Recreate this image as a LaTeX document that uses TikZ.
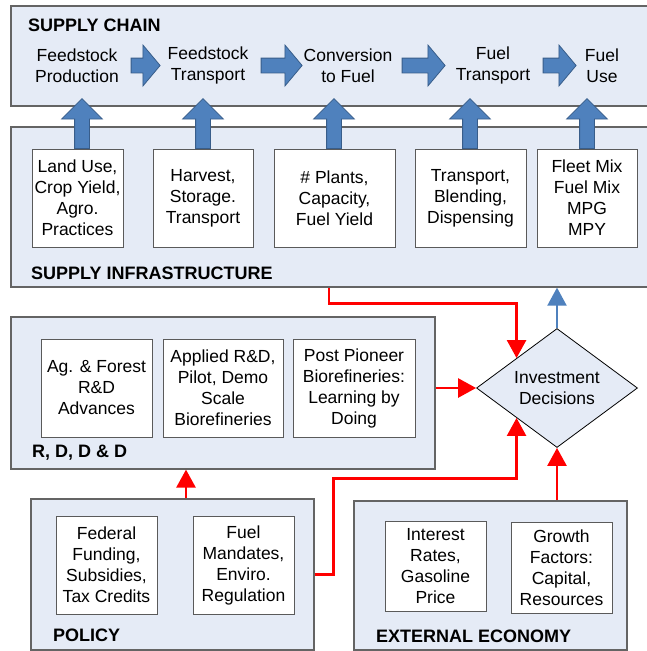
\documentclass[tikz,border=0pt]{standalone}
\usepackage{fontspec}
\setmainfont{Liberation Sans}
\usetikzlibrary{positioning,shapes.geometric,shapes.arrows,arrows.meta}
\definecolor{panelfill}{RGB}{229,235,246}
\definecolor{paneledge}{RGB}{100,100,100}
\definecolor{boxedge}{RGB}{90,90,90}
\definecolor{blockblue}{RGB}{79,129,189}
\definecolor{blockedge}{RGB}{56,93,138}
\definecolor{linkred}{RGB}{255,0,0}

\begin{document}
\begin{tikzpicture}[x=1pt, y=-1pt,
        every node/.style={font=\fontsize{17.5}{21}\selectfont},
        panel/.style={rectangle, draw=paneledge, fill=panelfill, line width=1.2pt, inner sep=0pt},
        itembox/.style={rectangle, draw=boxedge, fill=white, line width=1pt, align=center, inner sep=0pt, minimum height=98pt},
        paneltitle/.style={anchor=west, inner sep=0pt, font=\fontsize{18}{21}\selectfont\bfseries},
        flowtext/.style={align=center, inner sep=0pt},
        chevron/.style={single arrow, draw=blockedge, fill=blockblue, line width=0.8pt, inner sep=7pt, single arrow head extend=13pt, single arrow tip angle=100},
        uparrow/.style={single arrow, draw=blockedge, fill=blockblue, line width=0.8pt, inner sep=7pt, single arrow head extend=13pt, single arrow tip angle=90, minimum height=50pt, rotate=90, anchor=tail},
        decision/.style={diamond, draw=black, fill=panelfill, line width=0.8pt, aspect=1.35, minimum width=161pt, minimum height=119pt, inner sep=2pt, align=center},
        redlink/.style={draw=linkred, line width=2.6pt, -{Triangle[width=19pt,length=18pt]}},
        bluelink/.style={draw=blockblue, line width=2pt, -{Triangle[width=19pt,length=18pt]}},
]
        \useasboundingbox (0,0) rectangle (647,651);

        % panels
        \node[panel, minimum width=649pt, minimum height=100pt] (chain) at (335.5,56) {};
        \node[panel, minimum width=649pt, minimum height=160pt] (infra) at (335.5,207) {};
        \node[panel, minimum width=424pt, minimum height=152pt] (rddd) at (223,393) {};
        \node[panel, minimum width=283pt, minimum height=151pt] (policy) at (172.5,574.5) {};
        \node[panel, minimum width=273pt, minimum height=149pt] (econ) at (490.5,575.5) {};

        \node[paneltitle] (chaintitle) at (28,25) {SUPPLY CHAIN};
        \node[paneltitle] (infratitle) at (31,273) {SUPPLY INFRASTRUCTURE};
        \node[paneltitle] (rdddtitle) at (32,453) {R, D, D \& D};
        \node[paneltitle] (policytitle) at (53,635) {POLICY};
        \node[paneltitle] (econtitle) at (376,636) {EXTERNAL ECONOMY};

        % supply chain
        \node[flowtext] (fprod) at (77,65.5) {Feedstock\\Production};
        \node[flowtext] (ftrans) at (208,65.5) {Feedstock\\Transport};
        \node[flowtext] (convert) at (348,65.5) {Conversion\\to Fuel};
        \node[flowtext] (fueltrans) at (493,65.5) {Fuel\\Transport};
        \node[flowtext] (fueluse) at (602,65.5) {Fuel\\Use};
        \node[chevron, minimum height=29pt] (chev1) at (142.5,65.5) {};
        \node[chevron, minimum height=41pt] (chev2) at (278.5,65.5) {};
        \node[chevron, minimum height=43pt] (chev3) at (420.5,65.5) {};
        \node[chevron, minimum height=33pt] (chev4) at (556.5,65.5) {};

        % supply infrastructure
        \node[uparrow] (up1) at (82,149) {};
        \node[uparrow] (up2) at (203,149) {};
        \node[uparrow] (up3) at (334,149) {};
        \node[uparrow] (up4) at (470,149) {};
        \node[uparrow] (up5) at (587,149) {};
        \node[itembox, minimum width=91pt] (landuse) at (77.5,198) {Land Use,\\Crop Yield,\\Agro.\\Practices};
        \node[itembox, minimum width=100pt] (harvest) at (203,198) {Harvest,\\Storage.\\Transport};
        \node[itembox, minimum width=121pt] (plants) at (334.5,198) {\# Plants,\\Capacity,\\Fuel Yield};
        \node[itembox, minimum width=111pt] (blending) at (470.5,198) {Transport,\\Blending,\\Dispensing};
        \node[itembox, minimum width=100pt] (fleet) at (587,198) {Fleet Mix\\Fuel Mix\\MPG\\MPY};

        % r, d, d & d
        \node[itembox, minimum width=111pt] (agforest) at (96.5,388) {Ag. \& Forest\\R\&D\\Advances};
        \node[itembox, minimum width=120pt] (applied) at (223,388) {Applied R\&D,\\Pilot, Demo\\Scale\\Biorefineries};
        \node[itembox, minimum width=122pt] (pioneer) at (354,388) {Post Pioneer\\Biorefineries:\\Learning by\\Doing};

        % policy
        \node[itembox, minimum width=101pt] (federal) at (106.5,565) {Federal\\Funding,\\Subsidies,\\Tax Credits};
        \node[itembox, minimum width=101pt] (mandates) at (243.5,565) {Fuel\\Mandates,\\Enviro.\\Regulation};

        % external economy
        \node[itembox, minimum width=101pt, minimum height=90pt] (interest) at (435.5,566) {Interest\\Rates,\\Gasoline\\Price};
        \node[itembox, minimum width=101pt, minimum height=91pt] (growth) at (561.5,567.5) {Growth\\Factors:\\Capital,\\Resources};

        % decision
        \node[decision] (invest) at (557,388) {Investment\\Decisions};

        \draw[redlink] ([xshift=-6.5pt]infra.south) -- ++(0,16) -| (invest.north west);
        \draw[bluelink] (invest.north) -- (invest.north |- infra.south);
        \draw[redlink] (rddd.east |- invest.west) -- (invest.west);
        \draw[redlink] (policy.east) -- ++(19,0) -- ++(0,-96) -| (invest.south west);
        \draw[redlink] (invest.south |- econ.north) -- (invest.south);
        \draw[redlink] ([xshift=13.5pt]policy.north) -- ([xshift=13.5pt]policy.north |- rddd.south);
\end{tikzpicture}
\end{document}
